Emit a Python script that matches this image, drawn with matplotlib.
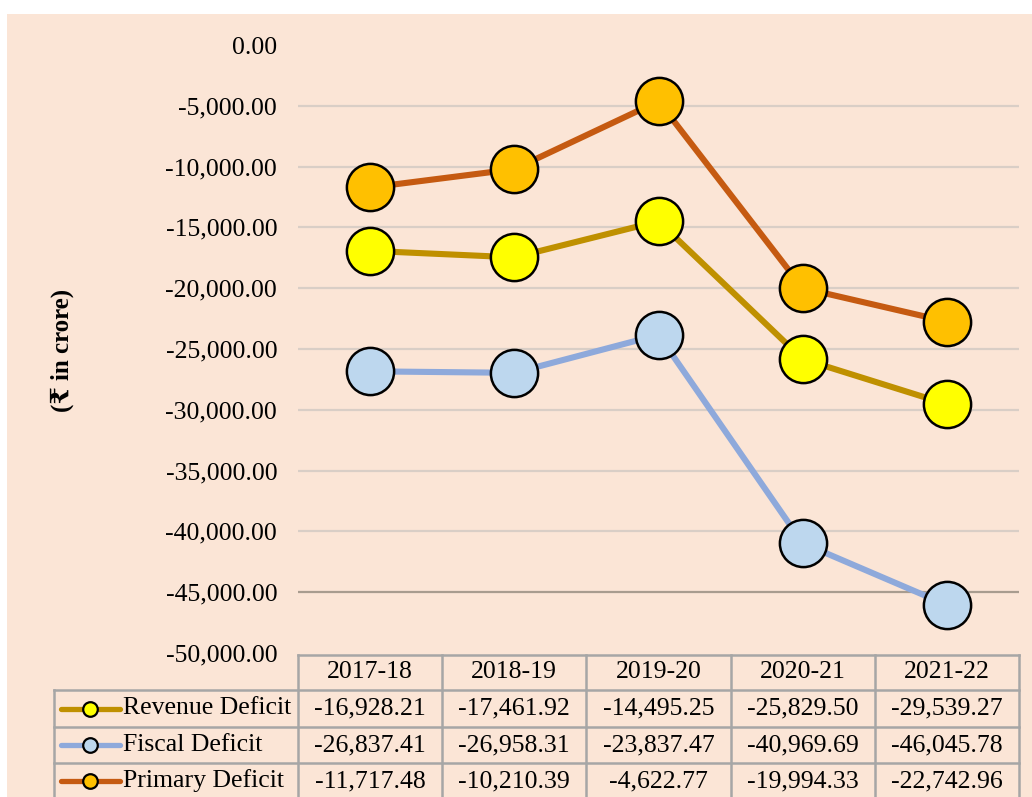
import numpy as np
import matplotlib.pyplot as plt
from matplotlib.lines import Line2D
from matplotlib.patches import Rectangle
import matplotlib.transforms as mtransforms
from matplotlib.ticker import FuncFormatter, MultipleLocator

# data (Rs in crore)
years = ['2017-18', '2018-19', '2019-20', '2020-21', '2021-22']
revenue_deficit = [-16928.21, -17461.92, -14495.25, -25829.50, -29539.27]
fiscal_deficit = [-26837.41, -26958.31, -23837.47, -40969.69, -46045.78]
primary_deficit = [-11717.48, -10210.39, -4622.77, -19994.33, -22742.96]

series_names = ['Revenue Deficit', 'Fiscal Deficit', 'Primary Deficit']
series_vals = [revenue_deficit, fiscal_deficit, primary_deficit]
line_colors = ['#BF9000', '#8EA9DB', '#C55A11']
marker_colors = ['#FFFF00', '#BDD7EE', '#FFC000']

serif = ['Liberation Serif', 'DejaVu Serif']
plt.rcParams['font.family'] = serif

W, H = 1032, 797
fig = plt.figure(figsize=(W / 100, H / 100), dpi=100)
fig.patch.set_facecolor('white')

def fx(p):
    return p / W

def fy(p):
    return 1 - p / H

# peach chart area
fig.add_artist(Rectangle((fx(7), 0), 1, fy(14), transform=fig.transFigure,
                         facecolor='#FBE5D6', edgecolor='none', zorder=0))

ax = fig.add_axes([fx(298), fy(653), fx(1019) - fx(298), fy(45) - fy(653)])
ax.set_facecolor('none')
ax.set_xlim(-0.5, 4.5)
ax.set_ylim(-50000, 0)
ax.yaxis.set_major_locator(MultipleLocator(5000))
ax.yaxis.set_major_formatter(FuncFormatter(lambda v, p: f'{v:,.2f}'))
ax.tick_params(axis='y', length=0, pad=15, labelsize=18.5)
ax.set_xticks([])
for s in ax.spines.values():
    s.set_visible(False)

for g in range(-45000, 0, 5000):
    col = '#A89C8F' if g == -45000 else '#D9CEC6'
    ax.axhline(g, color=col, lw=1.6, zorder=1)

x = np.arange(len(years))
for vals, lc, mc in zip(series_vals, line_colors, marker_colors):
    ax.plot(x, vals, color=lc, lw=4.4, zorder=2,
            marker='o', markersize=34, markerfacecolor=mc,
            markeredgecolor='black', markeredgewidth=1.8)

# data table below the axis
trans = mtransforms.blended_transform_factory(ax.transData, fig.transFigure)
grid_c = '#A6A6A6'
row_y = [655, 690, 727, 763, 799]
bottom = fy(800)
tfs = 18.5

for i in range(len(years) + 1):
    fig.add_artist(Line2D([i - 0.5, i - 0.5], [fy(655), bottom], transform=trans,
                          color=grid_c, lw=1.8, clip_on=False))
fig.add_artist(Line2D([fx(54), fx(54)], [fy(690), bottom], transform=fig.transFigure,
                      color=grid_c, lw=1.8, clip_on=False))
fig.add_artist(Line2D([fx(298), fx(1019)], [fy(655), fy(655)], transform=fig.transFigure,
                      color=grid_c, lw=1.8, clip_on=False))
for ry in row_y[1:]:
    fig.add_artist(Line2D([fx(54), fx(1019)], [fy(ry), fy(ry)], transform=fig.transFigure,
                          color=grid_c, lw=1.8, clip_on=False))

for i, yr in enumerate(years):
    fig.text(i, fy(672), yr, transform=trans, ha='center', va='center', fontsize=tfs)

for r, (name, vals, lc, mc) in enumerate(zip(series_names, series_vals, line_colors, marker_colors)):
    cy = fy((row_y[r + 1] + row_y[r + 2]) / 2)
    for i, v in enumerate(vals):
        fig.text(i, cy, f'{v:,.2f}', transform=trans, ha='center', va='center', fontsize=tfs)
    fig.add_artist(Line2D([fx(61), fx(120)], [cy, cy], transform=fig.transFigure,
                          color=lc, lw=3.8, solid_capstyle='round'))
    fig.add_artist(Line2D([fx(90)], [cy], transform=fig.transFigure, marker='o',
                          markersize=10.5, markerfacecolor=mc, markeredgecolor='black',
                          markeredgewidth=1.6, lw=0))
    fig.text(fx(123), cy, name, ha='left', va='center', fontsize=tfs)

fig.text(fx(62), fy(350), '(\u20b9 in crore)', rotation=90, ha='center', va='center',
         fontsize=18, fontweight='bold', family=serif)

fig.savefig('out.png', dpi=100)
